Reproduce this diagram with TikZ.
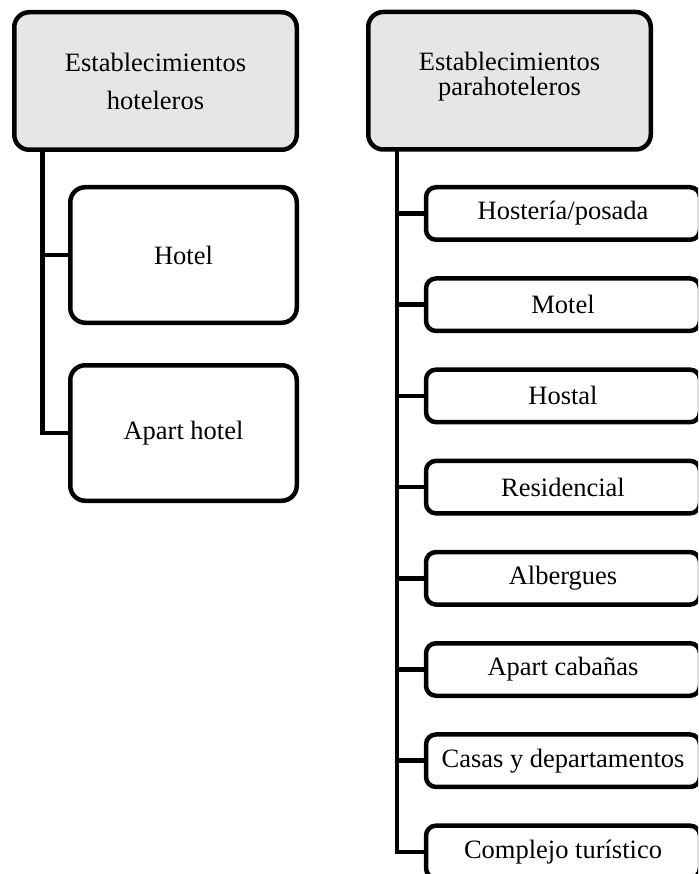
\documentclass[tikz,border=0pt]{standalone}
\usepackage{fontspec}
\setmainfont{Liberation Serif}
\definecolor{headfill}{HTML}{E6E6E6}
\begin{document}
\begin{tikzpicture}[x=1pt,y=-1pt,
  every node/.style={inner sep=0pt, outer sep=0pt},
  box/.style={draw=black, line width=4.5pt, rounded corners=15pt, fill=white,
    align=center, font=\fontsize{26.5}{32}\selectfont},
  headbox/.style={box, fill=headfill, minimum width=282.5pt, minimum height=137.5pt},
  subbox/.style={box, minimum width=226.5pt, minimum height=135.5pt},
  itembox/.style={box, rounded corners=10pt, minimum width=274pt, minimum height=52.5pt},
  link/.style={line width=4.5pt, line join=miter, line cap=butt}]
\useasboundingbox (0,0) rectangle (698,874);
\clip (0,0) rectangle (698,874);

% left branch
\node[headbox, font=\fontsize{26.5}{38}\selectfont] (hot) at (155.5,81) {Establecimientos\\hoteleros};
\node[subbox] (hotel) at (183.5,255) {Hotel};
\node[subbox] (apart) at (183.5,433) {Apart hotel};
\coordinate (hotTrunk) at (42.5,150);
\draw[link] (hotTrunk) |- (apart.west);
\draw[link] (hotTrunk |- hotel.west) -- (hotel.west);

% right branch
\node[headbox, font=\fontsize{26.5}{25}\selectfont, text depth=0pt] (para) at (509.5,80.75) {};
\node[align=center, font=\fontsize{26.5}{25}\selectfont] (paraText) at (509.5,77) {Establecimientos\\parahoteleros};
\coordinate (paraTrunk) at (397,150);
\foreach \name/\label [count=\i from 0] in {
  hos/Hostería\slash posada, mot/Motel, hst/Hostal, res/Residencial,
  alb/Albergues, cab/Apart cabañas, cas/Casas y departamentos,
  com/Complejo turístico}{
  \node[itembox] (\name) at (563,213.5+91.2*\i) {\label};
}
\draw[link] (paraTrunk) |- (com.west);
\foreach \name in {hos,mot,hst,res,alb,cab,cas}{
  \draw[link] (paraTrunk |- \name.west) -- (\name.west);
}
\end{tikzpicture}
\end{document}
